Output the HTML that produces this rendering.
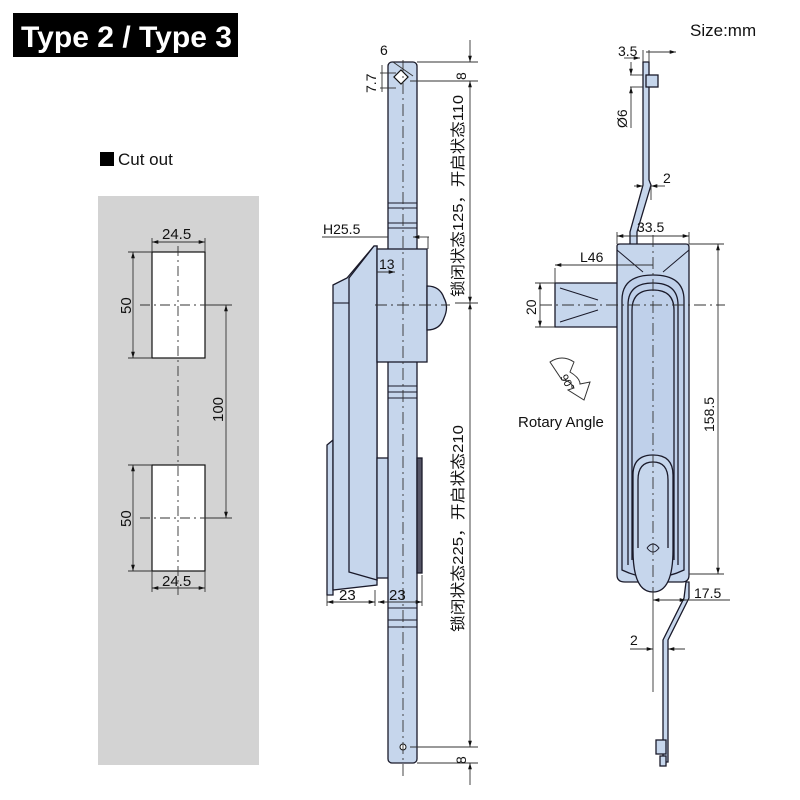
<!DOCTYPE html>
<html><head><meta charset="utf-8"><style>
html,body{margin:0;padding:0;background:#fff;width:800px;height:800px;overflow:hidden}
svg{display:block}
text{font-family:"Liberation Sans","Noto Sans CJK SC",sans-serif;fill:#111}
</style></head><body>
<svg width="800" height="800" viewBox="0 0 800 800" xmlns="http://www.w3.org/2000/svg">
<defs>
<marker id="a" viewBox="0 0 10 10" refX="10" refY="5" markerWidth="7" markerHeight="7" orient="auto-start-reverse"><path d="M0,2 L10,5 L0,8 z" fill="#111"/></marker>
</defs>
<!-- Title -->
<rect x="13" y="13" width="225" height="44" fill="#000"/>
<text x="21" y="47" font-size="30" font-weight="bold" style="fill:#fff" textLength="211" lengthAdjust="spacingAndGlyphs">Type 2 / Type 3</text>
<text x="690" y="36" font-size="17">Size:mm</text>

<!-- Cut out -->
<rect x="100" y="152" width="14" height="14" fill="#000"/>
<text x="118" y="165" font-size="17">Cut out</text>
<rect x="98" y="196" width="161" height="569" fill="#d3d3d3"/>
<g stroke="#111" stroke-width="1.2" fill="#fff">
<rect x="152" y="252" width="53" height="106"/>
<rect x="152" y="465" width="53" height="106"/>
</g>
<g stroke="#333" stroke-width="0.9" fill="none">
<line x1="178" y1="246" x2="178" y2="595" stroke-dasharray="10,4,2,4"/>
<line x1="140" y1="305" x2="228" y2="305" stroke-dasharray="10,4,2,4"/>
<line x1="140" y1="518" x2="228" y2="518" stroke-dasharray="10,4,2,4"/>
<line x1="152" y1="238" x2="152" y2="252"/><line x1="205" y1="238" x2="205" y2="252"/>
<line x1="152" y1="242" x2="205" y2="242" marker-start="url(#a)" marker-end="url(#a)"/>
<line x1="152" y1="571" x2="152" y2="592"/><line x1="205" y1="571" x2="205" y2="592"/>
<line x1="152" y1="588" x2="205" y2="588" marker-start="url(#a)" marker-end="url(#a)"/>
<line x1="128" y1="252" x2="152" y2="252"/><line x1="128" y1="358" x2="152" y2="358"/>
<line x1="133" y1="252" x2="133" y2="358" marker-start="url(#a)" marker-end="url(#a)"/>
<line x1="128" y1="465" x2="152" y2="465"/><line x1="128" y1="571" x2="152" y2="571"/>
<line x1="133" y1="465" x2="133" y2="571" marker-start="url(#a)" marker-end="url(#a)"/>
<line x1="205" y1="305" x2="232" y2="305"/><line x1="205" y1="518" x2="232" y2="518"/>
<line x1="226" y1="305" x2="226" y2="518" marker-start="url(#a)" marker-end="url(#a)"/>
</g>
<text x="162" y="239" font-size="15">24.5</text>
<text x="162" y="586" font-size="15">24.5</text>
<text transform="translate(131,314) rotate(-90)" font-size="15">50</text>
<text transform="translate(131,527) rotate(-90)" font-size="15">50</text>
<text transform="translate(223,422) rotate(-90)" font-size="15">100</text>

<!-- Side view (middle) -->
<g stroke="#1a1a2a" stroke-width="1.3" fill="#c6d6ec">
<path d="M327,445 L333,440 L333,595 L327,595 Z"/>
<path d="M333,285 L347,278 L374,246 L377,246 L377,585 L333,590 Z"/>
<path d="M349,278 L374,246 L377,246 L377,580 L349,572 Z"/>
<rect x="377" y="458" width="12" height="120"/>
<rect x="388" y="62" width="29" height="701" rx="4"/>
<rect x="377" y="249" width="50" height="113"/>
<path d="M427,286 Q440,286 444,298 Q449,307 444,318 Q440,330 427,330 Z"/>
<rect x="417" y="458" width="5" height="115" fill="#556"/>
</g>
<g stroke="#1a1a2a" stroke-width="1.1">
<line x1="388" y1="203" x2="417" y2="203"/><line x1="388" y1="208" x2="417" y2="208"/>
<line x1="388" y1="223" x2="417" y2="223"/><line x1="388" y1="228" x2="417" y2="228"/>
<line x1="388" y1="386" x2="417" y2="386"/><line x1="388" y1="392" x2="417" y2="392"/><line x1="388" y1="398" x2="417" y2="398"/>
<line x1="388" y1="608" x2="417" y2="608"/><line x1="388" y1="620" x2="417" y2="620"/><line x1="388" y1="627" x2="417" y2="627"/>
<line x1="349" y1="303" x2="333" y2="303"/>
</g>
<rect x="396" y="72" width="10" height="10" transform="rotate(45 401 77)" fill="#fff" stroke="#111" stroke-width="1.2"/>
<circle cx="403" cy="747" r="3" fill="#fff" stroke="#111"/>
<g stroke="#333" stroke-width="0.9" fill="none">
<line x1="403" y1="60" x2="403" y2="780" stroke-dasharray="12,4,2,4"/>
<line x1="375" y1="305" x2="450" y2="305" stroke-dasharray="12,4,2,4"/>
<line x1="417" y1="62" x2="478" y2="62"/><line x1="410" y1="81" x2="478" y2="81"/>
<line x1="470" y1="40" x2="470" y2="62" marker-end="url(#a)"/>
<line x1="470" y1="81" x2="470" y2="303" marker-start="url(#a)" marker-end="url(#a)"/>
<line x1="455" y1="303" x2="478" y2="303"/>
<line x1="470" y1="303" x2="470" y2="747" marker-start="url(#a)" marker-end="url(#a)"/>
<line x1="410" y1="747" x2="478" y2="747"/><line x1="417" y1="763" x2="478" y2="763"/>
<line x1="470" y1="763" x2="470" y2="785" marker-start="url(#a)"/>
<line x1="322" y1="237" x2="388" y2="237"/>
<line x1="413" y1="237" x2="429" y2="237" marker-start="url(#a)"/>
<line x1="428" y1="237" x2="428" y2="249"/>
<line x1="377" y1="272" x2="395" y2="272" marker-end="url(#a)"/>
<line x1="327" y1="595" x2="327" y2="606"/><line x1="375" y1="590" x2="375" y2="606"/>
<line x1="327" y1="602" x2="375" y2="602" marker-start="url(#a)" marker-end="url(#a)"/>
<line x1="422" y1="575" x2="422" y2="606"/>
<line x1="378" y1="602" x2="422" y2="602" marker-start="url(#a)" marker-end="url(#a)"/>
<line x1="382" y1="65" x2="382" y2="92"/>
<line x1="380" y1="73" x2="396" y2="73"/><line x1="380" y1="88" x2="396" y2="88"/>
<line x1="393" y1="62" x2="413" y2="76"/>
</g>
<text x="380" y="55" font-size="14">6</text>
<text transform="translate(376,93) rotate(-90)" font-size="14">7.7</text>
<text transform="translate(466,80) rotate(-90)" font-size="14">8</text>
<text transform="translate(466,764) rotate(-90)" font-size="14">8</text>
<text x="323" y="234" font-size="14">H25.5</text>
<text x="379" y="269" font-size="14">13</text>
<text x="339" y="600" font-size="15">23</text>
<text x="389" y="600" font-size="15">23</text>
<text transform="translate(463,297) rotate(-90)" font-size="15" textLength="202" lengthAdjust="spacingAndGlyphs">锁闭状态125，开启状态110</text>
<text transform="translate(463,632) rotate(-90)" font-size="15" textLength="207" lengthAdjust="spacingAndGlyphs">锁闭状态225，开启状态210</text>

<!-- Front view (right) -->
<g stroke="#1a1a2a" stroke-width="1.3" fill="#c6d6ec">
<path d="M643,62 L649,62 L649,180 L651,185 L637,232 L637,246 L630,246 L630,232 L643,185 Z"/>
<rect x="646" y="75" width="12" height="12"/>
<path d="M555,283 L618,283 L618,327 L555,327 Z"/>
<path d="M617,246 Q617,244 620,244 L686,244 Q689,244 689,247 L689,575 Q689,582 682,582 L625,582 Q617,582 617,575 Z"/>
<path d="M622,570 L622,300 Q622,275 653,275 Q684,275 684,300 L684,570 Q653,585 622,570 Z" fill="#bfd0ea"/>
<path d="M628,565 L628,305 Q628,283 653,283 Q678,283 678,305 L678,565" fill="none"/>
<path d="M632,560 L632,310 Q632,290 653,290 Q674,290 674,310 L674,560" fill="none"/>
<path d="M633,550 L633,475 Q633,455 653,455 Q673,455 673,475 L673,550 Q673,592 653,592 Q633,592 633,550 Z"/>
<path d="M638,548 L638,480 Q638,462 653,462 Q668,462 668,480 L668,548" fill="none"/>
<path d="M686,582 L689,582 L689,598 L668,640 L668,762 L663,762 L663,640 L684,598 Z"/>
<rect x="656" y="740" width="10" height="14"/>
<rect x="660" y="756" width="6" height="10"/>
</g>
<g stroke="#1a1a2a" stroke-width="1" fill="none">
<line x1="617" y1="250" x2="643" y2="272"/><line x1="689" y1="250" x2="663" y2="272"/>
<line x1="560" y1="288" x2="598" y2="300"/><line x1="560" y1="322" x2="598" y2="310"/>
<path d="M647,548 q6,-8 12,0 q-6,8 -12,0"/>
</g>
<g stroke="#333" stroke-width="0.9" fill="none">
<line x1="653" y1="235" x2="653" y2="600" stroke-dasharray="12,4,2,4"/>
<line x1="540" y1="305" x2="725" y2="305" stroke-dasharray="12,4,2,4"/>
<line x1="646" y1="52" x2="676" y2="52" marker-end="url(#a)"/>
<line x1="624" y1="58" x2="640" y2="58" marker-end="url(#a)"/>
<line x1="643" y1="50" x2="643" y2="62"/><line x1="649" y1="50" x2="649" y2="62"/>
<line x1="630" y1="75" x2="643" y2="75"/><line x1="630" y1="87" x2="643" y2="87"/>
<line x1="631" y1="62" x2="631" y2="75" marker-end="url(#a)"/>
<line x1="631" y1="100" x2="631" y2="87" marker-end="url(#a)"/>
<line x1="631" y1="100" x2="631" y2="128"/>
<line x1="634" y1="186" x2="643" y2="186" marker-end="url(#a)"/>
<line x1="665" y1="186" x2="651" y2="186" marker-end="url(#a)"/>
<line x1="651" y1="186" x2="651" y2="200"/>
<line x1="617" y1="232" x2="617" y2="244"/><line x1="689" y1="232" x2="689" y2="244"/>
<line x1="617" y1="236" x2="689" y2="236" marker-start="url(#a)" marker-end="url(#a)"/>
<line x1="555" y1="268" x2="555" y2="283"/>
<line x1="555" y1="265" x2="653" y2="265" marker-start="url(#a)"/>
<line x1="535" y1="283" x2="555" y2="283"/><line x1="535" y1="327" x2="555" y2="327"/>
<line x1="540" y1="283" x2="540" y2="327" marker-start="url(#a)" marker-end="url(#a)"/>
<line x1="689" y1="244" x2="724" y2="244"/>
<line x1="718" y1="244" x2="718" y2="574" marker-start="url(#a)" marker-end="url(#a)"/>
<line x1="689" y1="574" x2="724" y2="574"/>
<line x1="653" y1="590" x2="653" y2="692"/>
<line x1="653" y1="600" x2="730" y2="600"/>
<line x1="653" y1="600" x2="686" y2="600" marker-start="url(#a)" marker-end="url(#a)"/>
<line x1="630" y1="649" x2="653" y2="649" marker-end="url(#a)"/>
<line x1="685" y1="649" x2="668" y2="649" marker-end="url(#a)"/>
</g>
<path d="M550,362 q12,-8 24,0 l-4,10 q10,6 10,12 l10,-2 l-6,18 l-16,-10 l6,-2 q-4,-8 -12,-8 z" fill="#fff" stroke="#333" stroke-width="1"/>
<text transform="translate(560,377) rotate(60)" font-size="11">90°</text>
<text x="518" y="427" font-size="15">Rotary Angle</text>
<text x="618" y="56" font-size="14">3.5</text>
<text transform="translate(627,128) rotate(-90)" font-size="14">Ø6</text>
<text x="663" y="183" font-size="14">2</text>
<text x="637" y="232" font-size="14">33.5</text>
<text x="580" y="262" font-size="14">L46</text>
<text transform="translate(536,315) rotate(-90)" font-size="14">20</text>
<text transform="translate(714,432) rotate(-90)" font-size="14">158.5</text>
<text x="694" y="598" font-size="14">17.5</text>
<text x="630" y="645" font-size="14">2</text>
</svg>
</body></html>
